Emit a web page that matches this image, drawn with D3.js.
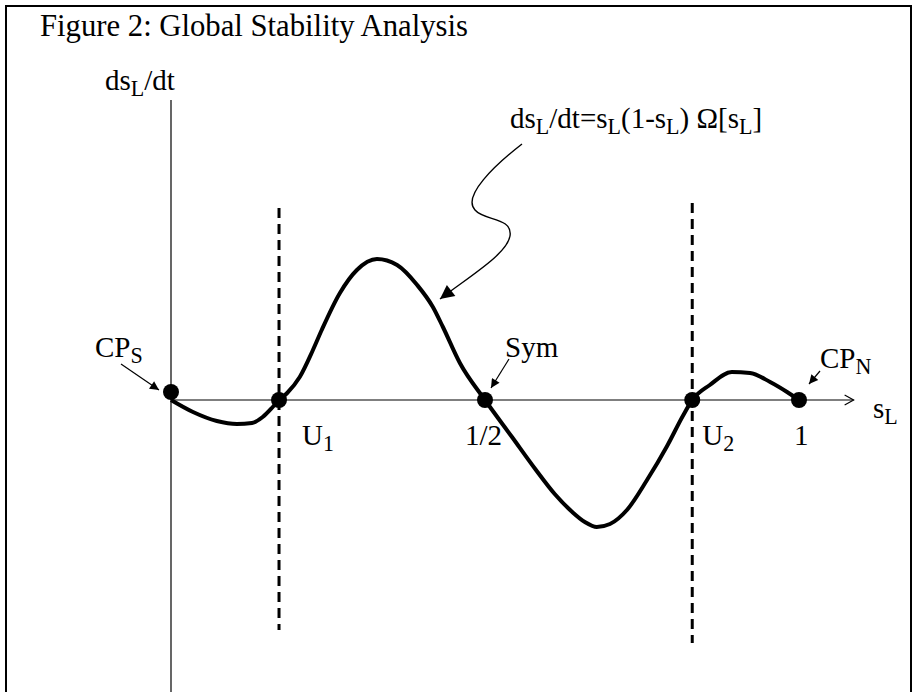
<!DOCTYPE html>
<html>
<head>
<meta charset="utf-8">
<script src="https://cdn.jsdelivr.net/npm/d3@7"></script>
<style>
  html, body { margin: 0; padding: 0; background: #fff; }
  svg { display: block; }
  text { font-family: "Liberation Serif", "Times New Roman", serif; fill: #000; }
</style>
</head>
<body>
<svg id="chart" width="916" height="692"></svg>
<script>
// Phase curve ds_L/dt against s_L (s in [0,1], rate in arbitrary units)
const curveS = [0, 0.035, 0.073, 0.105, 0.129, 0.146, 0.162, 0.172, 0.185, 0.205, 0.226, 0.240,
  0.269, 0.296, 0.328, 0.360, 0.392, 0.417, 0.433, 0.460, 0.5, 0.543, 0.580, 0.611, 0.639,
  0.659, 0.678, 0.699, 0.726, 0.758, 0.790, 0.815, 0.830, 0.858, 0.893, 0.922, 0.954, 0.981, 1];
const curveV = [0, -0.12, -0.21, -0.24, -0.23, -0.17, -0.07, 0, 0.07, 0.23, 0.50, 0.70,
  1.07, 1.30, 1.41, 1.35, 1.15, 0.93, 0.73, 0.37, 0, -0.37, -0.69, -0.94, -1.12,
  -1.22, -1.27, -1.24, -1.10, -0.80, -0.46, -0.16, 0, 0.15, 0.28, 0.27, 0.18, 0.08, 0];

// Equilibrium points
const pointNames = ["CP_S", "U1", "Sym", "U2", "CP_N"];
const pointS = [0, 0.172, 0.5, 0.830, 1];
const pointV = [0.08, 0, 0, 0, 0];

// Unstable thresholds drawn as dashed guides
const guideS = [0.172, 0.830];
const guideTop = [1.92, 1.97];
const guideBottom = [-2.30, -2.43];

// Tick labels under the axis
const tickText = ["U_{1}", "1/2", "U_{2}", "1"];
const tickS = [0.172, 0.5, 0.830, 1];
const tickDx = [23, -20, 10, -5];

// Labels for the points, with small pointer arrows
const noteText = ["CP_{S}", "Sym", "CP_{N}"];
const noteX = [95, 505, 820];
const noteY = [357, 357, 368];

const svg = d3.select("#chart");
const W = 916, H = 692;

const x = d3.scaleLinear().domain([0, 1]).range([171, 799]);
const y = d3.scaleLinear().domain([-2.92, 3]).range([692, 100]);

// arrow markers
const defs = svg.append("defs");
defs.append("marker").attr("id", "headSmall")
  .attr("markerUnits", "userSpaceOnUse").attr("viewBox", "0 0 10 10")
  .attr("refX", 10).attr("refY", 5).attr("markerWidth", 11).attr("markerHeight", 9)
  .attr("orient", "auto")
  .append("path").attr("d", "M0,0 L10,5 L0,10 Z").attr("fill", "#000");
defs.append("marker").attr("id", "headBig")
  .attr("markerUnits", "userSpaceOnUse").attr("viewBox", "0 0 10 10")
  .attr("refX", 10).attr("refY", 5).attr("markerWidth", 19).attr("markerHeight", 14)
  .attr("orient", "auto")
  .append("path").attr("d", "M0,0 L10,5 L0,10 Z").attr("fill", "#000");

// frame
svg.append("rect").attr("x", 6).attr("y", 6).attr("width", 905).attr("height", 720)
  .attr("fill", "none").attr("stroke", "#000").attr("stroke-width", 2);

// text helper: "_{...}" marks a subscript
function richText(g, str, px, py, size) {
  const t = g.append("text").attr("x", px).attr("y", py).style("font-size", size + "px");
  const parts = str.split(/(_\{[^}]*\})/).filter(p => p.length);
  let shifted = false;
  parts.forEach(p => {
    if (p.startsWith("_{")) {
      t.append("tspan").attr("dy", 6).style("font-size", (size * 0.76) + "px").text(p.slice(2, -1));
      shifted = true;
    } else {
      const ts = t.append("tspan").text(p);
      if (shifted) { ts.attr("dy", -6); shifted = false; }
    }
  });
  return t;
}

const FS = 29;
richText(svg, "Figure 2: Global Stability Analysis", 40, 36, 30.7);

// axes
const y0 = y(0);
svg.append("line").attr("x1", x(0)).attr("x2", x(0)).attr("y1", y(3)).attr("y2", H)
  .attr("stroke", "#000").attr("stroke-width", 1.2);
const xEnd = x(1.087);
svg.append("line").attr("x1", x(0)).attr("x2", xEnd).attr("y1", y0).attr("y2", y0)
  .attr("stroke", "#000").attr("stroke-width", 1.2);
svg.append("path").attr("d", `M${xEnd - 9},${y0 - 5} L${xEnd},${y0} L${xEnd - 9},${y0 + 5}`)
  .attr("fill", "none").attr("stroke", "#000").attr("stroke-width", 1.2);

richText(svg, "ds_{L}/dt", 105, 90, FS);
richText(svg, "s_{L}", 873, 418, FS);

// dashed guides
guideS.forEach((s, i) => {
  svg.append("line").attr("x1", x(s)).attr("x2", x(s))
    .attr("y1", y(guideTop[i])).attr("y2", y(guideBottom[i]))
    .attr("stroke", "#000").attr("stroke-width", 3).attr("stroke-dasharray", "10,6");
});

// phase curve
const pts = curveS.map((s, i) => [s, curveV[i]]);
const line = d3.line().x(d => x(d[0])).y(d => y(d[1])).curve(d3.curveMonotoneX);
svg.append("path").attr("d", line(pts)).attr("fill", "none")
  .attr("stroke", "#000").attr("stroke-width", 4).attr("stroke-linejoin", "round");

// equilibrium dots
svg.selectAll("circle.eq").data(pointS).join("circle").attr("class", "eq")
  .attr("cx", (s) => x(s)).attr("cy", (s, i) => y(pointV[i])).attr("r", 8).attr("fill", "#000");

// tick labels
tickText.forEach((t, i) => richText(svg, t, x(tickS[i]) + tickDx[i], 445, FS));

// point notes and pointer arrows
noteText.forEach((t, i) => richText(svg, t, noteX[i], noteY[i], FS));
const pointers = [
  [[121, 364], [159, 390]],
  [[509, 359], [491, 388]],
  [[820, 371], [809, 384]]
];
pointers.forEach(p => {
  svg.append("line").attr("x1", p[0][0]).attr("y1", p[0][1]).attr("x2", p[1][0]).attr("y2", p[1][1])
    .attr("stroke", "#000").attr("stroke-width", 1.2).attr("marker-end", "url(#headSmall)");
});

// formula with wavy pointer
richText(svg, "ds_{L}/dt=s_{L}(1-s_{L}) \u03A9[s_{L}]", 510, 128, FS);
svg.append("path")
  .attr("d", "M522,144 C495,165 462,196 475,210 C484,221 513,217 510,236 C507,254 470,276 440,299")
  .attr("fill", "none").attr("stroke", "#000").attr("stroke-width", 1.4)
  .attr("marker-end", "url(#headBig)");
</script>
</body>
</html>
